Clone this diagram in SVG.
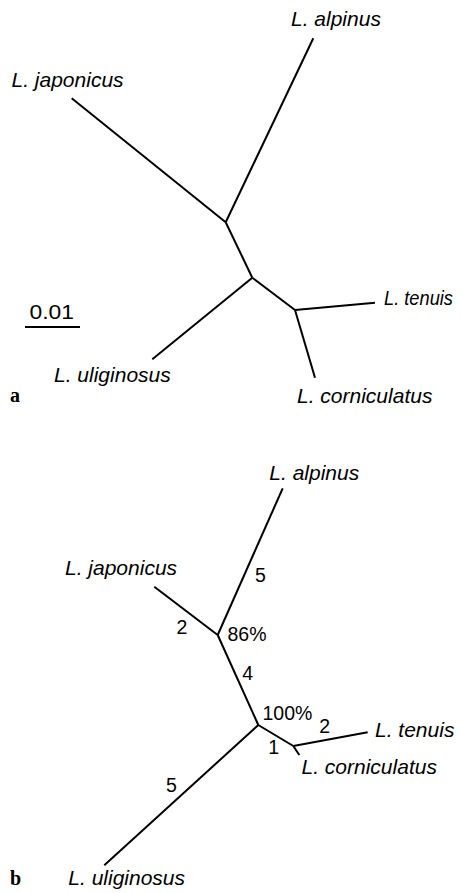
<svg xmlns="http://www.w3.org/2000/svg" width="462" height="893" viewBox="0 0 462 893">
<style>
.br{stroke:#000;stroke-width:2;fill:none;stroke-linecap:butt;stroke-linejoin:round}
.sp{font-family:"Liberation Sans",Arial,sans-serif;font-style:italic;font-size:21px;fill:#000}
.num{font-family:"Liberation Sans",Arial,sans-serif;font-size:19.5px;fill:#000}
.pl{font-family:"Liberation Serif","Times New Roman",serif;font-weight:bold;font-size:20px;fill:#000}
</style>
<rect width="462" height="893" fill="#fff"/>
<g id="panel-a">
<g id="connectors-a">
<line class="br" x1="313.3" y1="38.3" x2="225.7" y2="222.3"/>
<line class="br" x1="71.7" y1="98.3" x2="225.7" y2="222.3"/>
<line class="br" x1="225.7" y1="222.3" x2="252.3" y2="277.7"/>
<line class="br" x1="252.3" y1="277.7" x2="152.3" y2="359.3"/>
<line class="br" x1="252.3" y1="277.7" x2="295" y2="310"/>
<line class="br" x1="295" y1="310" x2="375" y2="302.7"/>
<line class="br" x1="295" y1="310" x2="315" y2="377.7"/>
<line class="br" x1="25" y1="327" x2="80" y2="327"/>
</g>
<g id="a-alpinus"><text class="sp" x="291" y="26">L. alpinus</text></g>
<g id="a-japonicus"><text class="sp" x="11.5" y="87">L. japonicus</text></g>
<g id="a-tenuis"><text class="sp" x="384" y="305" textLength="69" lengthAdjust="spacingAndGlyphs">L. tenuis</text></g>
<g id="a-uliginosus"><text class="sp" x="54" y="382">L. uliginosus</text></g>
<g id="a-corniculatus"><text class="sp" x="297" y="403">L. corniculatus</text></g>
<g id="a-scale"><text class="num" x="29.5" y="319" textLength="44.5" lengthAdjust="spacingAndGlyphs">0.01</text></g>
<g id="a-label"><text class="pl" x="10" y="401.5">a</text></g>
</g>
<g id="panel-b">
<g id="connectors-b">
<line class="br" x1="282.7" y1="488.3" x2="217.7" y2="635"/>
<line class="br" x1="154.3" y1="586.7" x2="217.7" y2="635"/>
<line class="br" x1="217.7" y1="635" x2="258.3" y2="725"/>
<line class="br" x1="258.3" y1="725" x2="104.3" y2="865.3"/>
<line class="br" x1="258.3" y1="725" x2="293.3" y2="746"/>
<line class="br" x1="293.3" y1="746" x2="367.7" y2="732.3"/>
<line class="br" x1="293.3" y1="746" x2="299.3" y2="755"/>
</g>
<g id="b-alpinus"><text class="sp" x="269.3" y="480">L. alpinus</text></g>
<g id="b-japonicus"><text class="sp" x="65" y="575">L. japonicus</text></g>
<g id="b-tenuis"><text class="sp" x="375" y="736.5">L. tenuis</text></g>
<g id="b-corniculatus"><text class="sp" x="301.5" y="774">L. corniculatus</text></g>
<g id="b-uliginosus"><text class="sp" x="68.3" y="885">L. uliginosus</text></g>
<g id="b-values">
<text class="num" x="255" y="581.5">5</text>
<text class="num" x="176.5" y="634">2</text>
<text class="num" x="227.5" y="640.5">86%</text>
<text class="num" x="242.3" y="679.5">4</text>
<text class="num" x="262.5" y="719.5">100%</text>
<text class="num" x="319.3" y="732.5">2</text>
<text class="num" x="268.3" y="754.3">1</text>
<text class="num" x="166" y="791.5">5</text>
</g>
<g id="b-label"><text class="pl" x="10" y="885">b</text></g>
</g>
</svg>
